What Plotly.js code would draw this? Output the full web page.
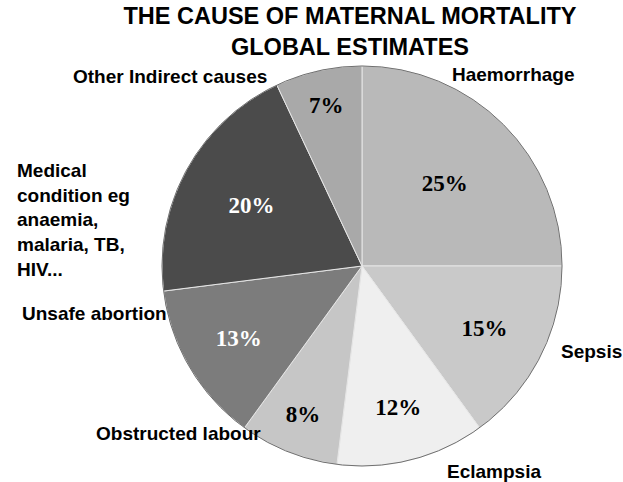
<!DOCTYPE html>
<html>
<head>
<meta charset="utf-8">
<script src="https://cdn.plot.ly/plotly-3.0.1.min.js"></script>
<style>html,body{margin:0;padding:0;background:#fff;}#chart{width:623px;height:482px;}</style>
</head>
<body>
<div id="chart"></div>
<script>
const causes = ["Haemorrhage", "Sepsis", "Eclampsia", "Obstructed labour", "Unsafe abortion",
  "Medical condition eg anaemia, malaria, TB, HIV...", "Other Indirect causes"];
const shares = [25, 15, 12, 8, 13, 20, 7];
const sliceColors = ["#b9b9b9", "#c9c9c9", "#efefef", "#c6c6c6", "#7c7c7c", "#4b4b4b", "#a9a9a9"];
const pctColors = ["#000", "#000", "#000", "#000", "#fff", "#fff", "#000"];
const labelText = ["Haemorrhage", "Sepsis", "Eclampsia", "Obstructed labour", "Unsafe abortion",
  "Medical<br>condition eg<br>anaemia,<br>malaria, TB,<br>HIV...", "Other Indirect causes"];
const labelPos = [[0.72, 0.9775], [0.9925, 0.2875], [0.7075, -0.015], [-0.17, 0.0825], [-0.355, 0.3825],
  [-0.3675, 0.615], [-0.2275, 0.9725]];

const sansBold = {family: "Liberation Sans, Arial, sans-serif", size: 19, color: "#000", weight: "bold"};

const trace = {
  type: "pie",
  labels: causes,
  values: shares,
  sort: false,
  direction: "clockwise",
  rotation: 0,
  marker: {colors: sliceColors, line: {color: "#e6e6e6", width: 1}},
  textinfo: "percent",
  texttemplate: "%{percent:.0%}",
  textposition: "inside",
  insidetextorientation: "horizontal",
  textfont: {family: "Liberation Serif, Times New Roman, serif", size: 23, color: pctColors, weight: "bold"},
  hoverinfo: "label+percent",
  showlegend: false
};

const annotations = labelText.map((t, i) => ({
  text: t, xref: "paper", yref: "paper", x: labelPos[i][0], y: labelPos[i][1],
  xanchor: "left", yanchor: "middle", align: "left", showarrow: false, font: sansBold
}));

const layout = {
  width: 623, height: 482,
  margin: {l: 162, r: 61, t: 66, b: 16},
  paper_bgcolor: "#fff", plot_bgcolor: "#fff",
  title: {
    text: "THE CAUSE OF MATERNAL MORTALITY<br>GLOBAL ESTIMATES",
    font: {family: "Liberation Sans, Arial, sans-serif", size: 23.5, color: "#000", weight: "bold"},
    xref: "container", yref: "container", x: 350 / 623, xanchor: "center", y: 1 - 24 / 482, yanchor: "top"
  },
  shapes: [{type: "circle", xref: "paper", yref: "paper", x0: 0, x1: 1, y0: 0, y1: 1,
    line: {color: "#707070", width: 1}, layer: "above"}],
  annotations: annotations
};

Plotly.newPlot("chart", [trace], layout, {displayModeBar: false, staticPlot: true});
</script>
</body>
</html>
